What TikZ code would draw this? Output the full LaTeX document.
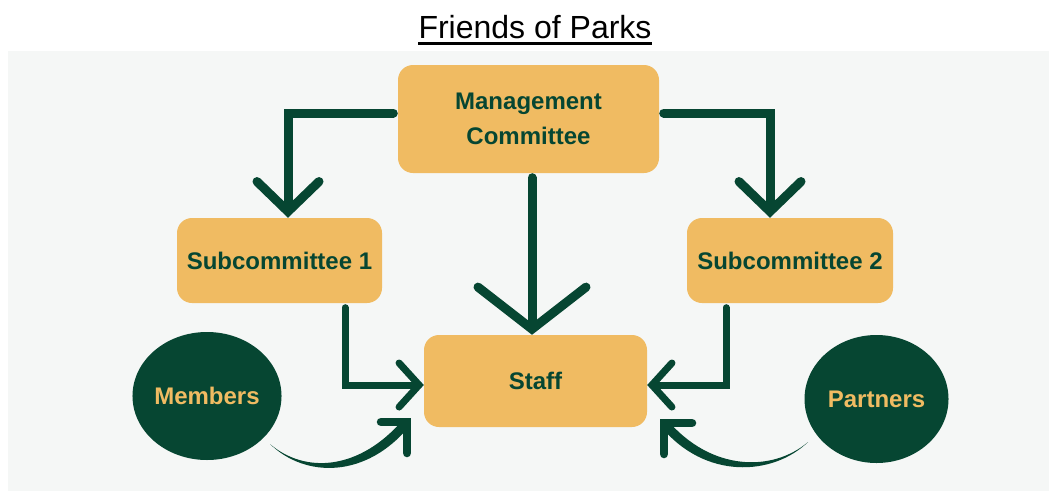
\documentclass[tikz,border=0pt]{standalone}
\usepackage{fontspec}
\setmainfont{Liberation Sans}
\usetikzlibrary{arrows.meta,calc,shapes.geometric}

\definecolor{parkgreen}{RGB}{6,70,50}
\definecolor{parkgold}{RGB}{240,187,98}
\definecolor{parkgray}{RGB}{245,247,246}

\begin{document}
\begin{tikzpicture}[x=1pt,y=-1pt,
  box/.style={fill=parkgold,rounded corners=15pt,inner sep=0pt,align=center,
    text=parkgreen,font=\bfseries\fontsize{24}{35}\selectfont},
  blob/.style={ellipse,fill=parkgreen,inner sep=0pt,minimum width=144pt,
    minimum height=128pt,text=parkgold,font=\bfseries\fontsize{24}{29}\selectfont},
  link/.style={draw=parkgreen,line width=9pt,line cap=round,line join=miter,shorten <=4.5pt},
  thin link/.style={link,line width=7pt},
  big tip/.style={-{Straight Barb[length=30pt,width=62pt,line cap=round,line join=miter]}},
  huge tip/.style={-{Straight Barb[length=42pt,width=108pt,line cap=round,line join=miter]}},
  small tip/.style={-{Straight Barb[length=20pt,width=44pt,line cap=round,line join=miter]}},
  barb/.style={draw=parkgreen,line width=8.5pt,line cap=round,line join=miter}]
\useasboundingbox (0,0) rectangle (1051,493);
\fill [parkgray] (8,51) rectangle (1049,491);

% title
\node (title) [anchor=base,inner sep=0pt,font=\fontsize{32}{38}\selectfont] at (535,38) {Friends of Parks};
\draw [line width=3pt] ([yshift=-5.5pt]title.base west) -- ([yshift=-5.5pt]title.base east);

% boxes
\node (mc) [box,minimum width=261pt,minimum height=108pt] at (528.5,119) {Management\\Committee};
\node (sub1) [box,minimum width=205pt,minimum height=85pt] at (279.5,260.5) {Subcommittee 1};
\node (sub2) [box,minimum width=206pt,minimum height=85pt] at (790,260.5) {Subcommittee 2};
\node (staff) [box,minimum width=223pt,minimum height=92pt] at (535.5,381) {Staff};
\node (members) [blob] at (207,396) {Members};
\node (partners) [blob] at (876.5,399) {Partners};

% straight connectors
\draw [link,big tip] ([yshift=6pt]mc.west) -| ([xshift=8.5pt]sub1.north);
\draw [link,big tip] ([yshift=6pt]mc.east) -| ([xshift=-20pt]sub2.north);
\draw [link,huge tip] ([xshift=3.5pt]mc.south) -- ([xshift=3.5pt]mc.south |- staff.north);
\draw [thin link,small tip] ([xshift=65.5pt]sub1.south) |- ([yshift=-4pt]staff.west);
\draw [thin link,small tip] ([xshift=-64pt]sub2.south) |- ([yshift=-4pt]staff.east);

% curved brush arrows
\coordinate (mfrom) at (270,444);
\coordinate (mtip) at (407,422);
\coordinate (pfrom) at (808,442);
\coordinate (ptip) at (664,423);
\fill [parkgreen] (mfrom) .. controls +(35,30) and +(-44,52) .. ($(mtip)+(-3.2,-3.2)$)
  -- ($(mtip)+(3.2,3.2)$) .. controls +(-44,54) and +(35,34) .. (mfrom) -- cycle;
\draw [barb] ($(mtip)+(-26,0)$) -- (mtip) -- ($(mtip)+(0,31)$);
\fill [parkgreen] (pfrom) .. controls +(-35,30) and +(44,52) .. ($(ptip)+(3.2,-3.2)$)
  -- ($(ptip)+(-3.2,3.2)$) .. controls +(44,54) and +(-35,34) .. (pfrom) -- cycle;
\draw [barb] ($(ptip)+(28,0)$) -- (ptip) -- ($(ptip)+(0,31)$);
\end{tikzpicture}
\end{document}
